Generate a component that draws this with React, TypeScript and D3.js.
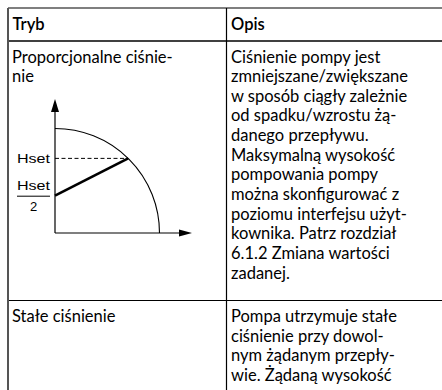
import * as d3 from "d3";

// table content
const headers = ["Tryb", "Opis"];
const modeLines = [
  ["Proporcjonalne ciśnie-", "nie"],
  ["Stałe ciśnienie"],
];
const descLines = [
  [
    "Ciśnienie pompy jest",
    "zmniejszane/zwiększane",
    "w sposób ciągły zależnie",
    "od spadku/wzrostu żą-",
    "danego przepływu.",
    "Maksymalną wysokość",
    "pompowania pompy",
    "można skonfigurować z",
    "poziomu interfejsu użyt-",
    "kownika. Patrz rozdział",
    "6.1.2 Zmiana wartości",
    "zadanej.",
  ],
  [
    "Pompa utrzymuje stałe",
    "ciśnienie przy dowol-",
    "nym żądanym przepły-",
    "wie. Żądaną wysokość",
  ],
];

// diagram: normalised head H vs flow Q, max curve is a quarter circle
const hMax = 1;
const qMax = 1;
const hSet = 0.714;
const hSetLabel = "Hset";

const W = 442;
const H = 390;
const FONT = "Lato, 'Noto Sans', sans-serif";

function Diagram() {
  const x = d3.scaleLinear().domain([0, qMax]).range([55, 159.5]);
  const y = d3.scaleLinear().domain([0, hMax]).range([233, 128.5]);
  const r = x(qMax) - x(0);
  const qAtSet = Math.sqrt(hMax * hMax - hSet * hSet);

  const curve = d3.path();
  curve.moveTo(x(0), y(hMax));
  curve.arc(x(0), y(0), r, -Math.PI / 2, 0);

  const line = d3.line<[number, number]>().x((d) => x(d[0])).y((d) => y(d[1]));
  const arrow = 13;
  const half = 4;

  return (
    <g>
      {/* axes */}
      <line x1={x(0)} y1={y(0)} x2={x(0)} y2={y(0) - 125} stroke="#000" strokeWidth={1.2} />
      <path
        d={`M${x(0)},${y(0) - 134}l${-half},${arrow}h${half * 2}z`}
        fill="#000"
      />
      <line x1={x(0)} y1={y(0)} x2={x(0) + 126} y2={y(0)} stroke="#000" strokeWidth={1.2} />
      <path
        d={`M${x(0) + 137},${y(0)}l${-arrow},${-half + 0.5}v${half * 2 - 1}z`}
        fill="#000"
      />
      {/* max curve */}
      <path d={curve.toString()} fill="none" stroke="#000" strokeWidth={1.1} />
      {/* Hset dashed */}
      <path
        d={line([[0, hSet], [qAtSet, hSet]]) ?? ""}
        stroke="#000"
        strokeWidth={1}
        strokeDasharray="4,2.5"
        fill="none"
      />
      {/* proportional line */}
      <path
        d={line([[0, hSet / 2], [qAtSet, hSet]]) ?? ""}
        stroke="#000"
        strokeWidth={2.6}
        fill="none"
      />
      <g fontFamily="'Liberation Sans', Arial, sans-serif" fontSize={12.5} fill="#000">
        <text x={17} y={y(hSet) + 4.5} textLength={33} lengthAdjust="spacingAndGlyphs">
          {hSetLabel}
        </text>
        <text x={17} y={y(hSet / 2) - 6} textLength={33} lengthAdjust="spacingAndGlyphs">
          {hSetLabel}
        </text>
        <line x1={17} x2={50} y1={y(hSet / 2) + 0.5} y2={y(hSet / 2) + 0.5} stroke="#000" strokeWidth={1} />
        <text x={33.5} y={y(hSet / 2) + 15} textAnchor="middle" fontSize={13}>2</text>
      </g>
    </g>
  );
}

export default function App() {
  const colX = [8, 226.5];
  const rowY = [8, 41, 300.5];
  const lh = 19.65;
  const firstBase = 21.5;

  return (
    <svg
      width={W}
      height={H}
      style={{ position: "absolute", left: 0, top: 0, background: "#fff" }}
    >
      <rect width={W} height={H} fill="#fff" />
      {/* grid */}
      <line x1={colX[0]} x2={W} y1={rowY[0]} y2={rowY[0]} stroke="#000" strokeWidth={1.2} />
      <line x1={colX[0]} x2={W} y1={rowY[1]} y2={rowY[1]} stroke="#000" strokeWidth={1.5} />
      <line x1={colX[0]} x2={W} y1={rowY[2]} y2={rowY[2]} stroke="#000" strokeWidth={1.2} />
      <line x1={colX[0]} x2={colX[0]} y1={rowY[0]} y2={H} stroke="#555" strokeWidth={2} />
      <line x1={colX[1]} x2={colX[1]} y1={rowY[0]} y2={H} stroke="#000" strokeWidth={1.2} />

      <g fontFamily={FONT} fontSize={16.5} fill="#000">
        {headers.map((h, i) => (
          <text key={h} x={colX[i] + 4.5} y={29.5} fontWeight={600}>
            {h}
          </text>
        ))}
        {modeLines.map((rows, ri) =>
          rows.map((t, li) => (
            <text key={`m${ri}-${li}`} x={colX[0] + 4} y={rowY[ri + 1] + firstBase + li * lh}>
              {t}
            </text>
          ))
        )}
        {descLines.map((rows, ri) =>
          rows.map((t, li) => (
            <text key={`d${ri}-${li}`} x={colX[1] + 4.5} y={rowY[ri + 1] + firstBase + li * lh}>
              {t}
            </text>
          ))
        )}
      </g>
      <Diagram />
    </svg>
  );
}
